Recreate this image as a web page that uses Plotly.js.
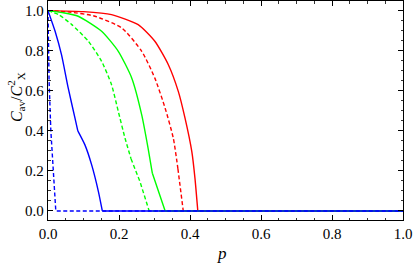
<!DOCTYPE html>
<html>
<head>
<meta charset="utf-8">
<script src="https://cdn.plot.ly/plotly-3.0.1.min.js"></script>
<style>html,body{margin:0;padding:0;background:#fff}#chart{width:415px;height:263px}</style>
</head>
<body>
<div id="chart"></div>
<script>
// Smooth upper parts (drawn as splines) and straight lower parts of each curve
const redSolidUpX = [0, 0.10, 0.179, 0.254, 0.301, 0.339, 0.367, 0.386, 0.405, 0.414, 0.422];
const redSolidUpY = [1, 0.995, 0.98, 0.93, 0.847, 0.73, 0.597, 0.463, 0.297, 0.163, 0];
const redSolidLowX = [0.422, 1.0];
const redSolidLowY = [0, 0];

const redDashUpX = [0, 0.06, 0.132, 0.208, 0.264, 0.301, 0.330, 0.353, 0.366];
const redDashUpY = [1, 0.993, 0.972, 0.913, 0.797, 0.663, 0.513, 0.363, 0.21];
const redDashLowX = [0.366, 0.381, 1.0];
const redDashLowY = [0.21, 0, 0];

const greenSolidUpX = [0, 0.04, 0.085, 0.151, 0.198, 0.236, 0.264, 0.282, 0.294];
const greenSolidUpY = [1, 0.99, 0.972, 0.897, 0.797, 0.663, 0.48, 0.313, 0.188];
const greenSolidLowX = [0.294, 0.330, 1.0];
const greenSolidLowY = [0.188, 0, 0];

const greenDashUpX = [0, 0.03, 0.067, 0.114, 0.151, 0.179, 0.198, 0.217, 0.234];
const greenDashUpY = [1, 0.98, 0.93, 0.847, 0.747, 0.63, 0.497, 0.363, 0.26];
const greenDashLowX = [0.234, 0.259, 0.285, 1.0];
const greenDashLowY = [0.26, 0.147, 0, 0];

const blueSolidUpX = [0, 0.02, 0.038, 0.057, 0.076, 0.084];
const blueSolidUpY = [1, 0.897, 0.78, 0.613, 0.463, 0.40];
const blueSolidMidX = [0.084, 0.104, 0.123, 0.142, 0.153];
const blueSolidMidY = [0.40, 0.33, 0.23, 0.097, 0];
const blueSolidLowX = [0.153, 1.0];
const blueSolidLowY = [0, 0];

const blueDashX = [0, 0.003, 0.008, 0.022, 1.0];
const blueDashY = [1, 0.65, 0.40, 0, 0];

const tickVals = [0, 0.2, 0.4, 0.6, 0.8, 1.0];
const tickText = ['0.0', '0.2', '0.4', '0.6', '0.8', '1.0'];

const SERIF = "Liberation Serif, DejaVu Serif, serif";

function tr(x, y, color, dash, shape) {
  return {x: x, y: y, type: 'scatter', mode: 'lines', hoverinfo: 'skip',
    line: {color: color, width: 1.4, dash: dash, shape: shape, smoothing: 0.6}};
}
const DASH = '4px,2.5px';
const data = [
  tr(redSolidUpX, redSolidUpY, '#ff0000', 'solid', 'spline'),
  tr(redSolidLowX, redSolidLowY, '#ff0000', 'solid', 'linear'),
  tr(redDashUpX, redDashUpY, '#ff0000', DASH, 'spline'),
  tr(redDashLowX, redDashLowY, '#ff0000', DASH, 'linear'),
  tr(greenSolidUpX, greenSolidUpY, '#00ff00', 'solid', 'spline'),
  tr(greenSolidLowX, greenSolidLowY, '#00ff00', 'solid', 'linear'),
  tr(greenDashUpX, greenDashUpY, '#00ff00', DASH, 'spline'),
  tr(greenDashLowX, greenDashLowY, '#00ff00', DASH, 'linear'),
  tr(blueDashX, blueDashY, '#0000ff', DASH, 'linear'),
  tr(blueSolidUpX, blueSolidUpY, '#0000ff', 'solid', 'spline'),
  tr(blueSolidMidX, blueSolidMidY, '#0000ff', 'solid', 'spline'),
  tr(blueSolidLowX, blueSolidLowY, '#0000ff', 'solid', 'linear')
];

const axisCommon = {
  showgrid: false, zeroline: false, showline: true, linecolor: '#000', linewidth: 1.3,
  mirror: 'allticks', ticks: 'inside', ticklen: 5, tickwidth: 1, tickcolor: '#000',
  tickmode: 'array', tickvals: tickVals, ticktext: tickText,
  tickfont: {family: SERIF, size: 15, color: '#000'},
  minor: {dtick: 0.05, ticks: 'inside', ticklen: 2.5, tickwidth: 0.8, tickcolor: '#000', showgrid: false}
};

const layout = {
  width: 415, height: 263,
  margin: {l: 48, r: 12, t: 1, b: 43},
  paper_bgcolor: '#fff', plot_bgcolor: '#fff',
  font: {family: SERIF, color: '#000'},
  showlegend: false,
  xaxis: Object.assign({}, axisCommon, {range: [0, 1]}),
  yaxis: Object.assign({}, axisCommon, {range: [-0.045, 1.048]}),
  annotations: [
    {text: '<i>C</i><sub>av</sub>/<i>C</i><sup>2</sup><sub>X</sub>', textangle: -90,
     xref: 'paper', yref: 'paper', x: -0.088, y: 0.56, showarrow: false,
     xanchor: 'center', yanchor: 'middle',
     font: {family: SERIF, size: 16, color: '#000'}},
    {text: '<i>p</i>', xref: 'paper', yref: 'paper', x: 0.49, y: -0.1, showarrow: false,
     xanchor: 'center', yanchor: 'top',
     font: {family: SERIF, size: 17, color: '#000'}}
  ]
};

Plotly.newPlot('chart', data, layout, {staticPlot: true, displayModeBar: false});
</script>
</body>
</html>
